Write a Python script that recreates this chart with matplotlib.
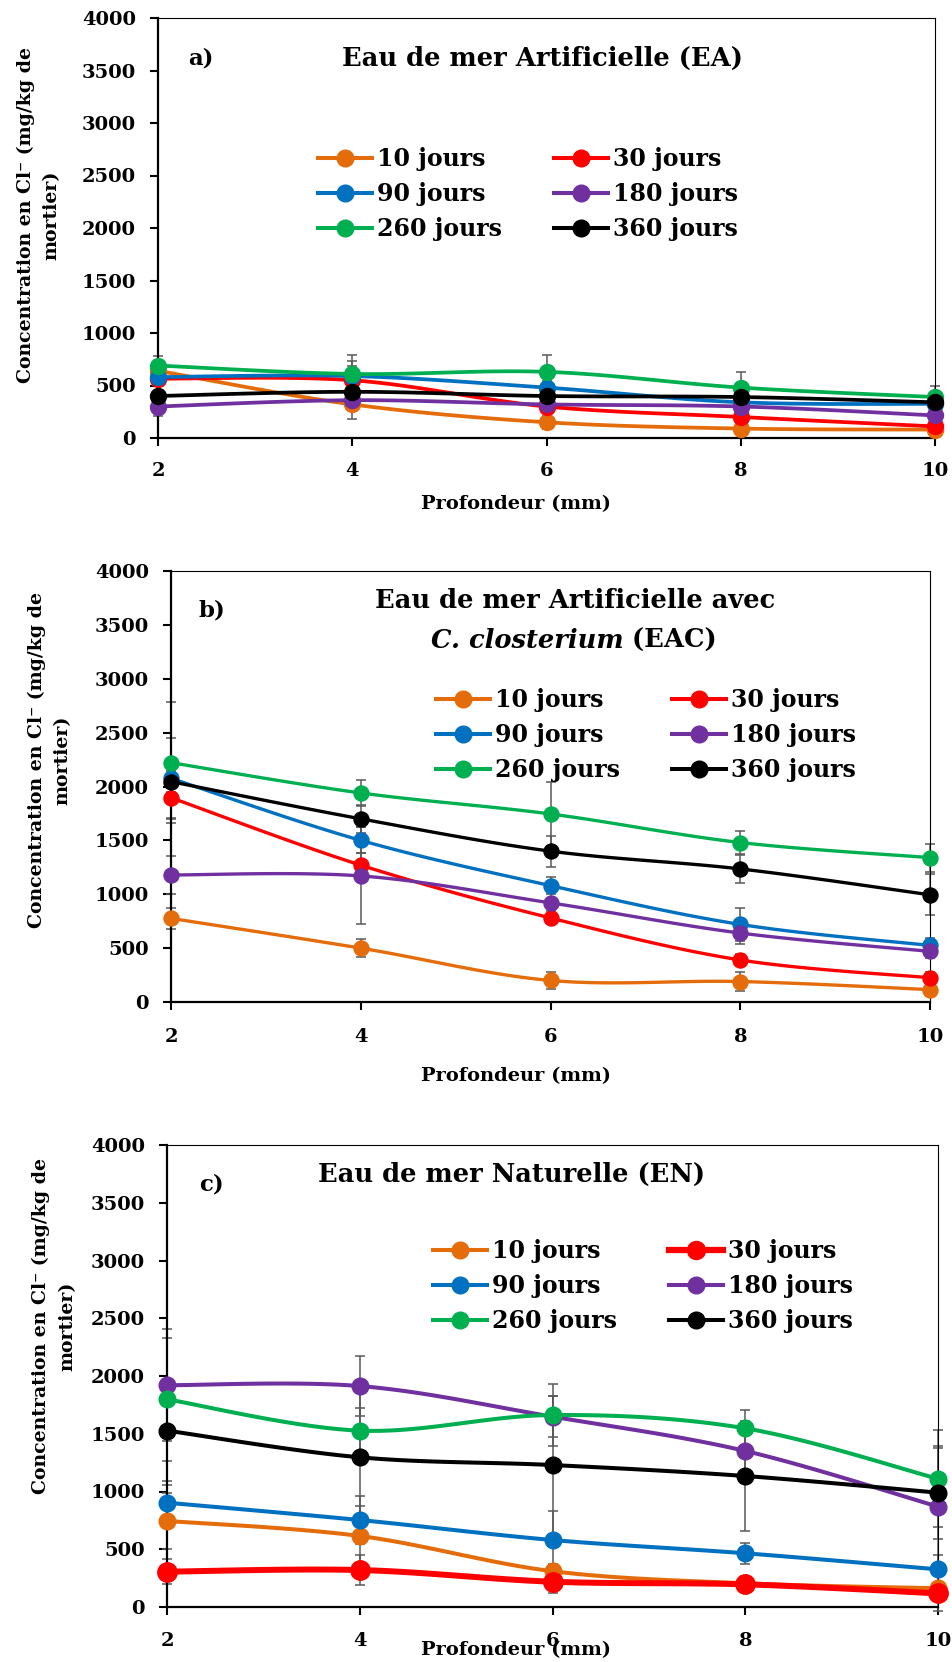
import numpy as np
import matplotlib
matplotlib.use("Agg")
import matplotlib.pyplot as plt
from matplotlib.lines import Line2D

plt.rcParams['font.family'] = ['DejaVu Serif', 'DejaVu Sans']
plt.rcParams['font.weight'] = 'bold'

# ---- data ----
depth = [2, 4, 6, 8, 10]
labels = ['10 jours', '30 jours', '90 jours', '180 jours', '260 jours', '360 jours']
colors = ['#E46C0A', '#FF0000', '#0070C0', '#7030A0', '#00B050', '#000000']

# a) Eau de mer Artificielle (EA)
ea_10 = [640, 320, 150, 90, 80]
ea_30 = [565, 550, 300, 200, 110]
ea_90 = [580, 590, 480, 340, 325]
ea_180 = [300, 360, 320, 300, 215]
ea_260 = [690, 610, 630, 480, 390]
ea_360 = [400, 440, 400, 390, 340]
ea_10_err = [60, 136, 60, 40, 30]
ea_30_err = [50, 180, 50, 40, 30]
ea_90_err = [40, 100, 60, 40, 40]
ea_180_err = [95, 60, 40, 30, 30]
ea_260_err = [90, 180, 160, 150, 110]
ea_360_err = [50, 120, 60, 50, 50]

# b) Eau de mer Artificielle avec C. closterium (EAC)
eac_10 = [776, 500, 200, 190, 115]
eac_30 = [1896, 1270, 780, 390, 225]
eac_90 = [2076, 1500, 1080, 720, 525]
eac_180 = [1179, 1170, 920, 640, 470]
eac_260 = [2221, 1940, 1745, 1480, 1340]
eac_360 = [2045, 1700, 1400, 1235, 995]
eac_10_err = [100, 85, 80, 85, 40]
eac_30_err = [200, 110, 60, 60, 50]
eac_90_err = [370, 120, 80, 155, 70]
eac_180_err = [180, 450, 100, 100, 60]
eac_260_err = [560, 120, 295, 110, 130]
eac_360_err = [100, 130, 145, 130, 190]

# c) Eau de mer Naturelle (EN)
en_10 = [745, 615, 310, 205, 162]
en_30 = [306, 320, 219, 196, 118]
en_90 = [903, 753, 580, 465, 326]
en_180 = [1920, 1913, 1648, 1351, 869]
en_260 = [1798, 1527, 1662, 1547, 1110]
en_360 = [1527, 1296, 1229, 1134, 990]
en_10_err = [240, 260, 60, 60, 200]
en_30_err = [110, 130, 95, 60, 40]
en_90_err = [150, 205, 250, 90, 125]
en_180_err = [485, 260, 175, 200, 510]
en_260_err = [530, 200, 267, 160, 420]
en_360_err = [440, 600, 600, 480, 400]

W, H = 952, 1662
fig = plt.figure(figsize=(W / 100, H / 100), dpi=100)


def px_axes(l, t, r, b):
    return fig.add_axes([l / W, 1 - b / H, (r - l) / W, (b - t) / H])


def smooth(x, y, n=30):
    # Excel-style smoothed line (uniform Catmull-Rom through the points)
    p = np.column_stack([x, y]).astype(float)
    p = np.vstack([p[0], p, p[-1]])
    out = []
    t = np.linspace(0, 1, n)
    for i in range(1, len(p) - 2):
        p0, p1, p2, p3 = p[i - 1], p[i], p[i + 1], p[i + 2]
        for tt in t:
            out.append(0.5 * ((2 * p1) + (-p0 + p2) * tt +
                              (2 * p0 - 5 * p1 + 4 * p2 - p3) * tt ** 2 +
                              (-p0 + 3 * p1 - 3 * p2 + p3) * tt ** 3))
    out = np.array(out)
    return out[:, 0], out[:, 1]


def panel(ax, series, errs, lw, ms, xpad, red_lw=None, red_ms=None):
    for i, (y, e) in enumerate(zip(series, errs)):
        ax.errorbar(depth, y, yerr=e, fmt='none', ecolor='#595959',
                    elinewidth=1.1, capsize=3.8, capthick=1.1, zorder=2, clip_on=False)
    for i, y in enumerate(series):
        w = lw
        m = ms
        if i == 1 and red_lw:
            w, m = red_lw, red_ms
        sx, sy = smooth(depth, y)
        ax.plot(sx, sy, color=colors[i], lw=w, zorder=3 + i, clip_on=False,
                solid_capstyle='round')
        ax.plot(depth, y, 'o', color=colors[i], ms=m, zorder=3 + i, clip_on=False)
    ax.set_xlim(2, 10)
    ax.set_ylim(0, 4000)
    ax.set_xticks(depth)
    ax.set_yticks(range(0, 4001, 500))
    for s in ['left', 'bottom']:
        ax.spines[s].set_linewidth(1.6)
    for s in ['top', 'right']:
        ax.spines[s].set_linewidth(0.8)
    ax.tick_params(direction='out', length=6, width=1.5, labelsize=14)
    ax.tick_params(axis='y', pad=10)
    ax.tick_params(axis='x', pad=xpad)


def legend(ax, cx, cy, lw, ms, red_lw=None, red_ms=None):
    hs = []
    for i in range(6):
        w, m = lw, ms
        if i == 1 and red_lw:
            w, m = red_lw, red_ms
        hs.append(Line2D([], [], color=colors[i], lw=w, marker='o', ms=m))
    order = [0, 2, 4, 1, 3, 5]
    ax.legend([hs[k] for k in order], [labels[k] for k in order], ncol=2,
              loc='center', bbox_to_anchor=(cx, cy), frameon=False,
              prop={'size': 17, 'weight': 'bold'}, handlelength=2.3,
              handletextpad=0.2, columnspacing=2.2, labelspacing=0.46,
              borderpad=0, borderaxespad=0)


ylab = 'Concentration en Cl\u207b (mg/kg de\nmortier)'
TS = 18.5
XS = 14
YS = 13.6

# ---- panel a ----
ax_a = px_axes(158, 18, 935, 438)
panel(ax_a, [ea_10, ea_30, ea_90, ea_180, ea_260, ea_360],
      [ea_10_err, ea_30_err, ea_90_err, ea_180_err, ea_260_err, ea_360_err],
      lw=2.7, ms=11.5, xpad=11)
legend(ax_a, 0.476, 0.581, 2.9, 12)
fig.text(201 / W, 1 - 59 / H, 'a)', fontsize=16.5, ha='center', va='center')
fig.text(543 / W, 1 - 58 / H, 'Eau de mer Artificielle (EA)', fontsize=TS,
         ha='center', va='center')
fig.text(516 / W, 1 - 504 / H, 'Profondeur (mm)', fontsize=XS, ha='center', va='center')
fig.text(38.5 / W, 1 - 215 / H, ylab, fontsize=YS, rotation=90, ha='center',
         va='center', multialignment='center', linespacing=1.55)

# ---- panel b ----
ax_b = px_axes(171, 571, 930, 1002)
panel(ax_b, [eac_10, eac_30, eac_90, eac_180, eac_260, eac_360],
      [eac_10_err, eac_30_err, eac_90_err, eac_180_err, eac_260_err, eac_360_err],
      lw=2.4, ms=10.8, xpad=13)
legend(ax_b, 0.626, 0.619, 2.9, 12)
fig.text(212 / W, 1 - 610 / H, 'b)', fontsize=16.5, ha='center', va='center')
fig.text(575 / W, 1 - 601 / H, 'Eau de mer Artificielle avec', fontsize=TS,
         ha='center', va='center')
t_it = fig.text(0, 1 - 640 / H, 'C. closterium', fontsize=TS, style='italic',
                ha='left', va='center')
t_rg = fig.text(0, 1 - 640 / H, ' (EAC)', fontsize=TS, ha='left', va='center')
fig.canvas.draw()
r = fig.canvas.get_renderer()
w1 = t_it.get_window_extent(r).width
w2 = t_rg.get_window_extent(r).width
x0 = 574 - (w1 + w2) / 2
t_it.set_x(x0 / W)
t_rg.set_x((x0 + w1) / W)
fig.text(516 / W, 1 - 1076 / H, 'Profondeur (mm)', fontsize=XS, ha='center', va='center')
fig.text(49.5 / W, 1 - 760 / H, ylab, fontsize=YS, rotation=90, ha='center',
         va='center', multialignment='center', linespacing=1.55)

# ---- panel c ----
ax_c = px_axes(167, 1145, 938, 1607)
panel(ax_c, [en_10, en_30, en_90, en_180, en_260, en_360],
      [en_10_err, en_30_err, en_90_err, en_180_err, en_260_err, en_360_err],
      lw=2.9, ms=12, xpad=12, red_lw=4.3, red_ms=14)
legend(ax_c, 0.617, 0.695, 2.9, 12, red_lw=4.5, red_ms=13)
fig.text(211 / W, 1 - 1184 / H, 'c)', fontsize=16.5, ha='center', va='center')
fig.text(512 / W, 1 - 1174 / H, 'Eau de mer Naturelle (EN)', fontsize=TS,
         ha='center', va='center')
fig.text(516 / W, 1 - 1650 / H, 'Profondeur (mm)', fontsize=XS, ha='center', va='center')
fig.text(54 / W, 1 - 1326 / H, ylab, fontsize=YS, rotation=90, ha='center',
         va='center', multialignment='center', linespacing=1.55)

fig.savefig('out.png', dpi=100, facecolor='white')
